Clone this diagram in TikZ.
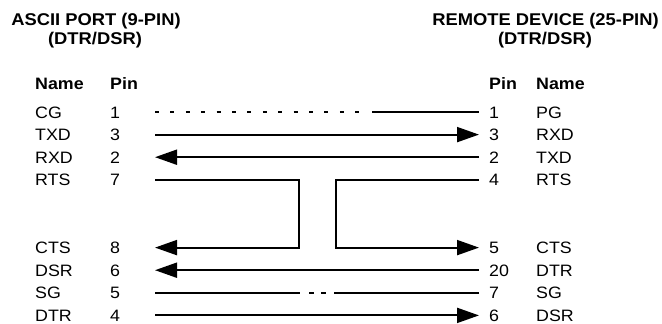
\documentclass[tikz,border=0pt]{standalone}
\usepackage{fontspec}
\setmainfont{Liberation Sans}[FakeStretch=1.08]
\usetikzlibrary{calc}
\usetikzlibrary{arrows.meta}

\tikzset{wire/.style={black, line width=2pt},
  tip/.style={-{Triangle[length=22pt,width=15pt]}},
  txt/.style={anchor=base west, inner sep=0pt, font=\fontsize{16.5}{19}\selectfont},
  head/.style={inner sep=0pt, font=\bfseries\fontsize{17}{19}\selectfont}}

\begin{document}
\begin{tikzpicture} [x=1pt, y=-1pt]
\useasboundingbox (0,0) rectangle (662,324);

\node[head, anchor=base] (asciititle) at (96,25) {ASCII PORT (9-PIN)};
\node[head, anchor=base] (asciisub) at (95,45) {(DTR/DSR)};
\node[head, anchor=base] (remotetitle) at (545.5,25) {REMOTE DEVICE (25-PIN)};
\node[head, anchor=base] (remotesub) at (545,45) {(DTR/DSR)};

\node[txt, font=\bfseries\fontsize{16.5}{19}\selectfont] (lname) at (35,89) {Name};
\node[txt, font=\bfseries\fontsize{16.5}{19}\selectfont] (lpin) at (110,89) {Pin};
\node[txt, font=\bfseries\fontsize{16.5}{19}\selectfont] (rpin) at (489,89) {Pin};
\node[txt, font=\bfseries\fontsize{16.5}{19}\selectfont] (rname) at (536,89) {Name};

\foreach \k/\ln/\lp/\rp/\rn in {0/CG/1/1/PG, 1/TXD/3/3/RXD, 2/RXD/2/2/TXD, 3/RTS/7/4/RTS,
  6/CTS/8/5/CTS, 7/DSR/6/20/DTR, 8/SG/5/7/SG, 9/DTR/4/6/DSR} {
  \node[txt] (ln\k) at (35,{118+22.6*\k}) {\ln};
  \node[txt] (lp\k) at (110,{118+22.6*\k}) {\lp};
  \node[txt] (rp\k) at (489,{118+22.6*\k}) {\rp};
  \node[txt] (rn\k) at (536,{118+22.6*\k}) {\rn};
  \coordinate (a\k) at (155,{112+22.6*\k});
  \coordinate (b\k) at (479,{112+22.6*\k});
}

% CG - PG
\draw[wire, dash pattern=on 4pt off 11.4pt] (a0) -- ($(a0)+(207,0)$);
\draw[wire] ($(a0)+(217,0)$) -- (b0);

\draw[wire, tip] (a1) -- (b1);
\draw[wire, tip] (b2) -- (a2);

% RTS/CTS loops
\draw[wire, tip] (a3) -- ++(144,0) |- (a6);
\draw[wire, tip] (b3) -- ++(-143,0) |- (b6);

\draw[wire, tip] (b7) -- (a7);

% SG
\draw[wire] (a8) -- ++(145,0);
\draw[wire, dash pattern=on 4.5pt off 7.5pt] ($(a8)+(154,0)$) -- ++(17,0);
\draw[wire] (b8) -- ++(-145,0);

\draw[wire, tip] (a9) -- (b9);

\end{tikzpicture}
\end{document}
